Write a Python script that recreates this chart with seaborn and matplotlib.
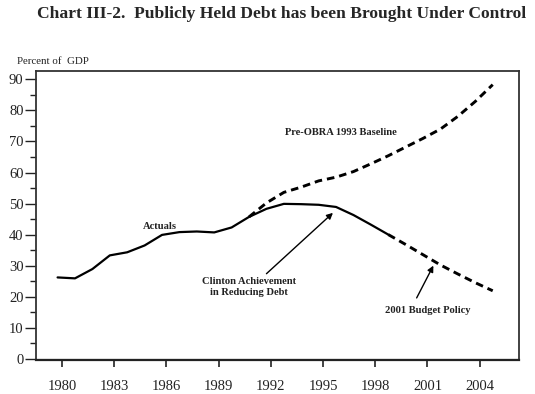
import matplotlib
matplotlib.use("Agg")
import matplotlib.pyplot as plt
import pandas as pd
import seaborn as sns
from matplotlib.ticker import MultipleLocator

sns.set_style("ticks")
plt.rcParams['font.family'] = ['Liberation Serif', 'DejaVu Serif']

# debt held by the public, percent of GDP
actual_years = list(range(1980, 2000))
actual_debt = [26.2, 25.9, 28.9, 33.3, 34.3, 36.5, 39.9, 40.8, 41.0, 40.7,
               42.3, 45.7, 48.3, 49.9, 49.8, 49.6, 48.9, 46.3, 43.2, 40.0]
policy_years = list(range(1999, 2006))
policy_debt = [40.0, 36.8, 33.5, 30.2, 27.3, 24.5, 21.9]
baseline_years = list(range(1991, 2006))
baseline_debt = [45.7, 50.2, 53.6, 55.3, 57.3, 58.5, 60.3, 62.8, 65.4, 68.2,
                 71.0, 74.0, 78.1, 82.9, 88.3]
tick_years = list(range(1980, 2005, 3))
y_ticks = list(range(0, 91, 10))

# fiscal-year points sit a little left of the calendar-year ticks
FY_SHIFT = -0.25


def frame(years, values):
    return pd.DataFrame({'year': [y + FY_SHIFT for y in years], 'debt': values})


fig = plt.figure(figsize=(5.35, 3.94), dpi=100)
ax = fig.add_axes([36 / 535, 34 / 394, 483 / 535, 289 / 394])

dash = (0, (2.6, 1.7))
sns.lineplot(data=frame(actual_years, actual_debt), x='year', y='debt', ax=ax,
             color='black', lw=1.6)
sns.lineplot(data=frame(policy_years, policy_debt), x='year', y='debt', ax=ax,
             color='black', lw=2.1, linestyle=dash)
sns.lineplot(data=frame(baseline_years, baseline_debt), x='year', y='debt', ax=ax,
             color='black', lw=2.1, linestyle=dash)
ax.axhline(0, color='#333333', lw=0.8)

ax.set_xlim(1978.51, 2006.26)
ax.set_ylim(-0.4, 92.7)
ax.set_xticks(tick_years)
ax.set_yticks(y_ticks)
ax.yaxis.set_minor_locator(MultipleLocator(5))
ax.set_xlabel('')
ax.set_ylabel('')
ax.tick_params(axis='x', direction='out', length=5, width=1.2, color='#222222',
               pad=9.5, labelsize=10.5, labelcolor='#222222')
ax.tick_params(axis='y', which='major', direction='out', length=8, width=1.0,
               color='#222222', pad=1.0, labelsize=10.5, labelcolor='#222222')
ax.tick_params(axis='y', which='minor', direction='out', length=4, width=1.0,
               color='#222222')
for side in ['left', 'top', 'right']:
    ax.spines[side].set_linewidth(1.3)
    ax.spines[side].set_color('#333333')
ax.spines['bottom'].set_linewidth(1.6)
ax.spines['bottom'].set_color('#222222')

note = dict(fontsize=7.6, fontweight='bold', color='#222222')
ax.text(1985.6, 42.6, 'Actuals', ha='center', va='center', **note)
ax.text(1996.0, 72.8, 'Pre-OBRA 1993 Baseline', ha='center', va='center', **note)
ax.text(1990.75, 23.0, 'Clinton Achievement\nin Reducing Debt', ha='center',
        va='center', linespacing=1.3, **note)
ax.text(2001.0, 15.6, '2001 Budget Policy', ha='center', va='center', **note)

arrow = dict(arrowstyle='-|>', color='black', lw=1.0, mutation_scale=9,
             shrinkA=0, shrinkB=0)
ax.annotate('', xy=(1995.57, 47.0), xytext=(1991.75, 27.4), arrowprops=arrow)
ax.annotate('', xy=(2001.34, 30.0), xytext=(2000.38, 19.6), arrowprops=arrow)

fig.text(17 / 535, 1 - 62 / 394, 'Percent of  GDP', fontsize=7.8,
         ha='left', va='center', color='#222222')
fig.text(282 / 535, 1 - 14 / 394,
         'Chart III-2.  Publicly Held Debt has been Brought Under Control',
         fontsize=12.6, fontweight='bold', ha='center', va='center')

fig.savefig('out.png', dpi=100)
